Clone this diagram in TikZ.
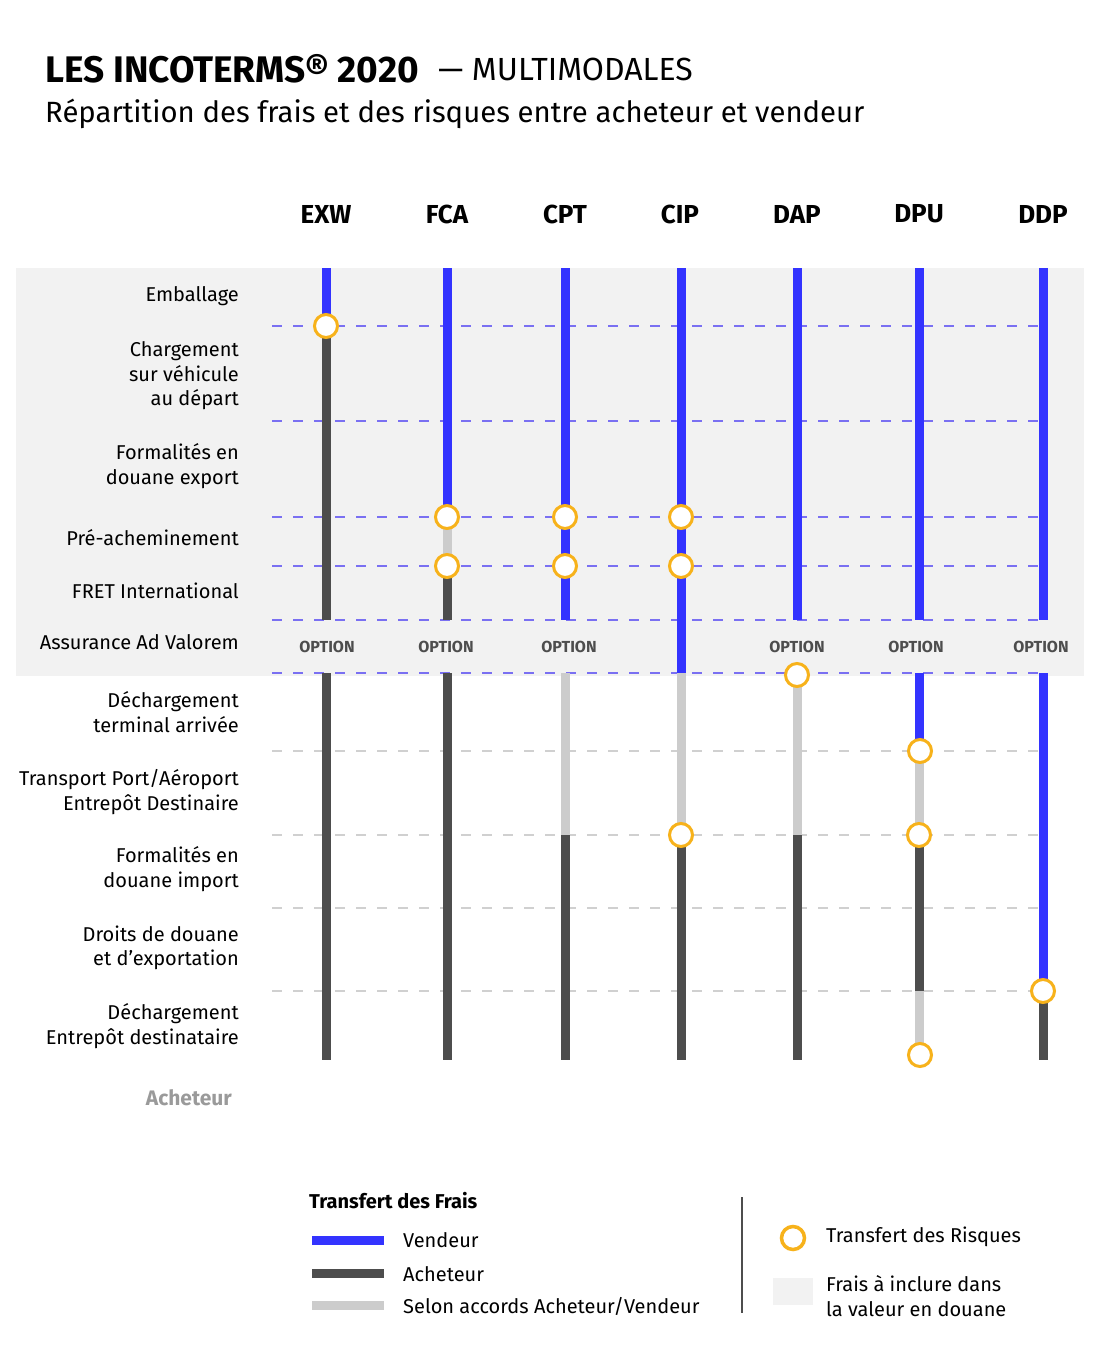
\documentclass[tikz,border=0pt]{standalone}
\usepackage{fontspec}
\setmainfont{Fira Sans}
\usetikzlibrary{positioning}

\definecolor{vend}{HTML}{3333FF}
\definecolor{ach}{HTML}{4D4D4D}
\definecolor{selon}{HTML}{CCCCCC}
\definecolor{fond}{HTML}{F2F2F2}
\definecolor{risque}{HTML}{F7B21B}
\definecolor{tiret}{HTML}{7A70F2}
\definecolor{tiretgris}{HTML}{D0D0D0}
\definecolor{option}{HTML}{4D4D4D}
\definecolor{grisach}{HTML}{9A9A9A}

\begin{document}
\begin{tikzpicture}[x=1pt,y=-1pt,
  vendeur/.style={draw=vend,line width=9pt},
  acheteur/.style={draw=ach,line width=9pt},
  accord/.style={draw=selon,line width=9pt},
  risk/.style={circle,draw=risque,line width=3pt,fill=white,minimum size=23pt,inner sep=0pt},
  rowlabel/.style={anchor=east,align=right,inner sep=0pt,font=\fontsize{20}{24.5}\selectfont},
  colhead/.style={inner sep=0pt,font=\fontsize{26}{30}\selectfont\bfseries},
  optlabel/.style={inner sep=0pt,text=option,font=\fontsize{16}{18}\selectfont\bfseries},
  legtext/.style={anchor=west,align=left,inner sep=0pt,font=\fontsize{20}{24.5}\selectfont},
  bluedash/.style={draw=tiret,line width=2pt,dash pattern=on 10pt off 11pt},
  greydash/.style={draw=tiretgris,line width=2pt,dash pattern=on 10pt off 11pt}]

  % Page and grey band
  \fill[white] (0,0) rectangle (1100,1362);
  \useasboundingbox (0,0) rectangle (1100,1362);
  \fill[fond] (16,268) rectangle (1084,676);

  % Title
  \node[anchor=west,inner sep=0pt,font=\fontsize{37}{42}\selectfont\bfseries] (titre) at (45,69) {LES INCOTERMS® 2020};
  \node[right=19pt of titre,inner sep=0pt,font=\fontsize{32}{38}\selectfont] (multi) {— MULTIMODALES};
  \node[anchor=west,inner sep=0pt,font=\fontsize{29.3}{34}\selectfont] (soustitre) at (45,114) {Répartition des frais et des risques entre acheteur et vendeur};

  % Column headers
  \foreach \n/\x in {EXW/326,FCA/447,CPT/565,CIP/680,DAP/797,DPU/919,DDP/1043}
    \node[colhead] (h\n) at (\x,214) {\n};

  % Row labels
  \node[rowlabel] (emb) at (239,296) {Emballage};
  \node[rowlabel] (charg) at (239,376) {Chargement\\sur véhicule\\au départ};
  \node[rowlabel] (fexp) at (239,466) {Formalités en \\douane export};
  \node[rowlabel] (preach) at (239,538) {Pré-acheminement};
  \node[rowlabel] (fret) at (239,591) {FRET International};
  \node[rowlabel] (assur) at (239,642) {Assurance Ad Valorem};
  \node[rowlabel] (dechterm) at (239,712) {Déchargement \\terminal arrivée};
  \node[rowlabel] (transp) at (239,792) {Transport Port/Aéroport\\Entrepôt Destinaire};
  \node[rowlabel] (fimp) at (239,869) {Formalités en\\douane import};
  \node[rowlabel] (droits) at (239,948) {Droits de douane\\et d’exportation};
  \node[rowlabel] (dechent) at (239,1026) {Déchargement\\Entrepôt destinataire};
  \node[anchor=east,inner sep=0pt,text=grisach,font=\fontsize{21}{24}\selectfont\bfseries] (acht) at (232,1098) {Acheteur};

  % Dashed separators
  \foreach \y in {326,421,517,566,620,673}
    \draw[bluedash] (272,\y) -- (1040,\y);
  \foreach \y in {751,835,908,991}
    \draw[greydash] (272,\y) -- (1040,\y);

  % Cost bars
  \foreach \x/\a/\b/\s in {
      326/268/326/vendeur, 326/326/620/acheteur, 326/673/1060/acheteur,
      447/268/517/vendeur, 447/517/566/accord, 447/566/620/acheteur, 447/673/1060/acheteur,
      565/268/620/vendeur, 565/673/835/accord, 565/835/1060/acheteur,
      681/268/673/vendeur, 681/673/835/accord, 681/835/1060/acheteur,
      797/268/620/vendeur, 797/675/835/accord, 797/835/1060/acheteur,
      919/268/620/vendeur, 919/673/751/vendeur, 919/751/835/accord, 919/835/991/acheteur, 919/991/1055/accord,
      1043/268/620/vendeur, 1043/673/991/vendeur, 1043/991/1060/acheteur}
    \draw[\s] (\x,\a) -- (\x,\b);

  % Option labels
  \foreach \x [count=\i] in {327,446,569,797,916,1041}
    \node[optlabel] (opt\i) at (\x,647) {OPTION};

  % Risk transfer points
  \foreach \x/\y [count=\i] in {326/326,447/517,447/566,565/517,565/566,681/517,681/566,
      681/835,797/675,920/751,919/835,920/1055,1043/991}
    \node[risk] (r\i) at (\x,\y) {};

  % Legend
  \node[anchor=west,inner sep=0pt,font=\fontsize{20}{24}\selectfont\bfseries] (legfrais) at (309,1201) {Transfert des Frais};
  \draw[vendeur] (312,1240) -- (384,1240);
  \draw[acheteur] (312,1273) -- (384,1273);
  \draw[accord] (312,1305) -- (384,1305);
  \node[legtext] (legvend) at (403,1240) {Vendeur};
  \node[legtext] (legach) at (403,1274) {Acheteur};
  \node[legtext] (legsel) at (403,1306) {Selon accords Acheteur/Vendeur};
  \draw[ach,line width=1.5pt] (742,1197) -- (742,1313);
  \node[risk,line width=3.5pt] (legrisk) at (793,1238) {};
  \node[legtext] (legrisque) at (826,1237) {Transfert des Risques};
  \fill[fond] (773,1278) rectangle (813,1305);
  \node[legtext] (legfond) at (826,1296) {Frais à inclure dans\\la valeur en douane};

\end{tikzpicture}
\end{document}
